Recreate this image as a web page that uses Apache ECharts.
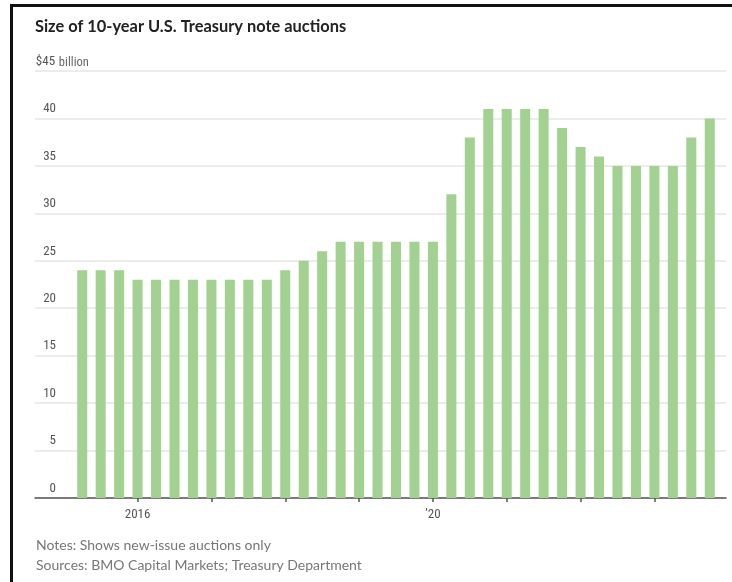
<!DOCTYPE html>
<html>
<head>
<meta charset="utf-8">
<title>Size of 10-year U.S. Treasury note auctions</title>
<script src="https://cdn.jsdelivr.net/npm/echarts@6/dist/echarts.min.js"></script>
<style>
  html, body { margin: 0; padding: 0; background: #fff; }
  #chart { width: 732px; height: 582px; }
</style>
</head>
<body>
<div id="chart"></div>
<script>
// new-issue auctions, quarterly (Feb, May, Aug, Nov)
var auctions = [
  '2015-05', '2015-08', '2015-11',
  '2016-02', '2016-05', '2016-08', '2016-11',
  '2017-02', '2017-05', '2017-08', '2017-11',
  '2018-02', '2018-05', '2018-08', '2018-11',
  '2019-02', '2019-05', '2019-08', '2019-11',
  '2020-02', '2020-05', '2020-08', '2020-11',
  '2021-02', '2021-05', '2021-08', '2021-11',
  '2022-02', '2022-05', '2022-08', '2022-11',
  '2023-02', '2023-05', '2023-08', '2023-11'
];
// $ billion
var sizes = [
  24, 24, 24,
  23, 23, 23, 23,
  23, 23, 23, 23,
  24, 25, 26, 27,
  27, 27, 27, 27,
  27, 32, 38, 41,
  41, 41, 41, 39,
  37, 36, 35, 35,
  35, 35, 38, 40
];
// year ticks sit on the February auction; only some are labelled
var yearLabels = { '2016-02': '2016', '2020-02': '\u201920' };
var yTicks = [0, 5, 10, 15, 20, 25, 30, 35, 40, 45];

var narrow = "'Liberation Sans Narrow', 'Roboto Condensed', 'Liberation Sans', sans-serif";

var chart = echarts.init(document.getElementById('chart'));
chart.setOption({
  backgroundColor: '#fff',
  animation: false,
  title: [
    {
      text: 'Size of 10-year U.S. Treasury note auctions',
      left: 30, top: 14,
      textStyle: { fontFamily: 'Lato', fontSize: 16.4, fontWeight: 'bold', color: '#222' }
    },
    {
      text: 'Notes: Shows new-issue auctions only\nSources: BMO Capital Markets; Treasury Department',
      left: 31, top: 530,
      textStyle: { fontFamily: 'Lato', fontSize: 14, fontWeight: 'normal', color: '#777', lineHeight: 20 }
    }
  ],
  graphic: [
    // frame of the screenshot: top and left edges
    { type: 'rect', shape: { x: 10, y: 4, width: 722, height: 3 }, style: { fill: '#111' } },
    { type: 'rect', shape: { x: 10, y: 4, width: 3, height: 578 }, style: { fill: '#111' } }
  ],
  grid: [
    { left: 35, right: 6, top: 71, bottom: 84 },
    { left: 73, right: 13, top: 71, bottom: 84 }
  ],
  xAxis: [
    {
      type: 'value', gridIndex: 0, min: 0, max: 1,
      axisLine: { show: true, lineStyle: { color: '#555', width: 1.5 } },
      axisTick: { show: false }, axisLabel: { show: false }, splitLine: { show: false }
    },
    {
      type: 'category', gridIndex: 1, data: auctions,
      axisLine: { show: false },
      axisTick: {
        show: true, alignWithLabel: true, length: 4,
        interval: function (i) { return i % 4 === 3; },
        lineStyle: { color: '#555', width: 1.5 }
      },
      axisLabel: {
        interval: function (i, v) { return !!yearLabels[v]; },
        formatter: function (v) { return yearLabels[v] || ''; },
        margin: 10, fontFamily: narrow, fontSize: 13, color: '#555'
      },
      splitLine: { show: false }
    }
  ],
  yAxis: [
    {
      type: 'value', gridIndex: 0, min: yTicks[0], max: yTicks[yTicks.length - 1], interval: 5,
      axisLine: { show: false }, axisTick: { show: false },
      axisLabel: {
        inside: true, margin: 0, verticalAlign: 'bottom',
        formatter: function (v) {
          return v === 45 ? '{n|$45} billion' : '{n|' + v + '}';
        },
        fontFamily: narrow, fontSize: 12.5, color: '#666',
        rich: {
          n: { width: 21, align: 'right', fontFamily: narrow, fontSize: 13, color: '#555', padding: [0, 0, 3, 0] }
        }
      },
      splitLine: { show: true, lineStyle: { color: '#e6e6e6', width: 1.5 } }
    },
    {
      type: 'value', gridIndex: 1, min: 0, max: 45, show: false, splitLine: { show: false }
    }
  ],
  series: [
    {
      type: 'bar', xAxisIndex: 1, yAxisIndex: 1,
      data: sizes, barWidth: 10,
      itemStyle: { color: '#a2d191' }
    }
  ]
});
</script>
</body>
</html>
